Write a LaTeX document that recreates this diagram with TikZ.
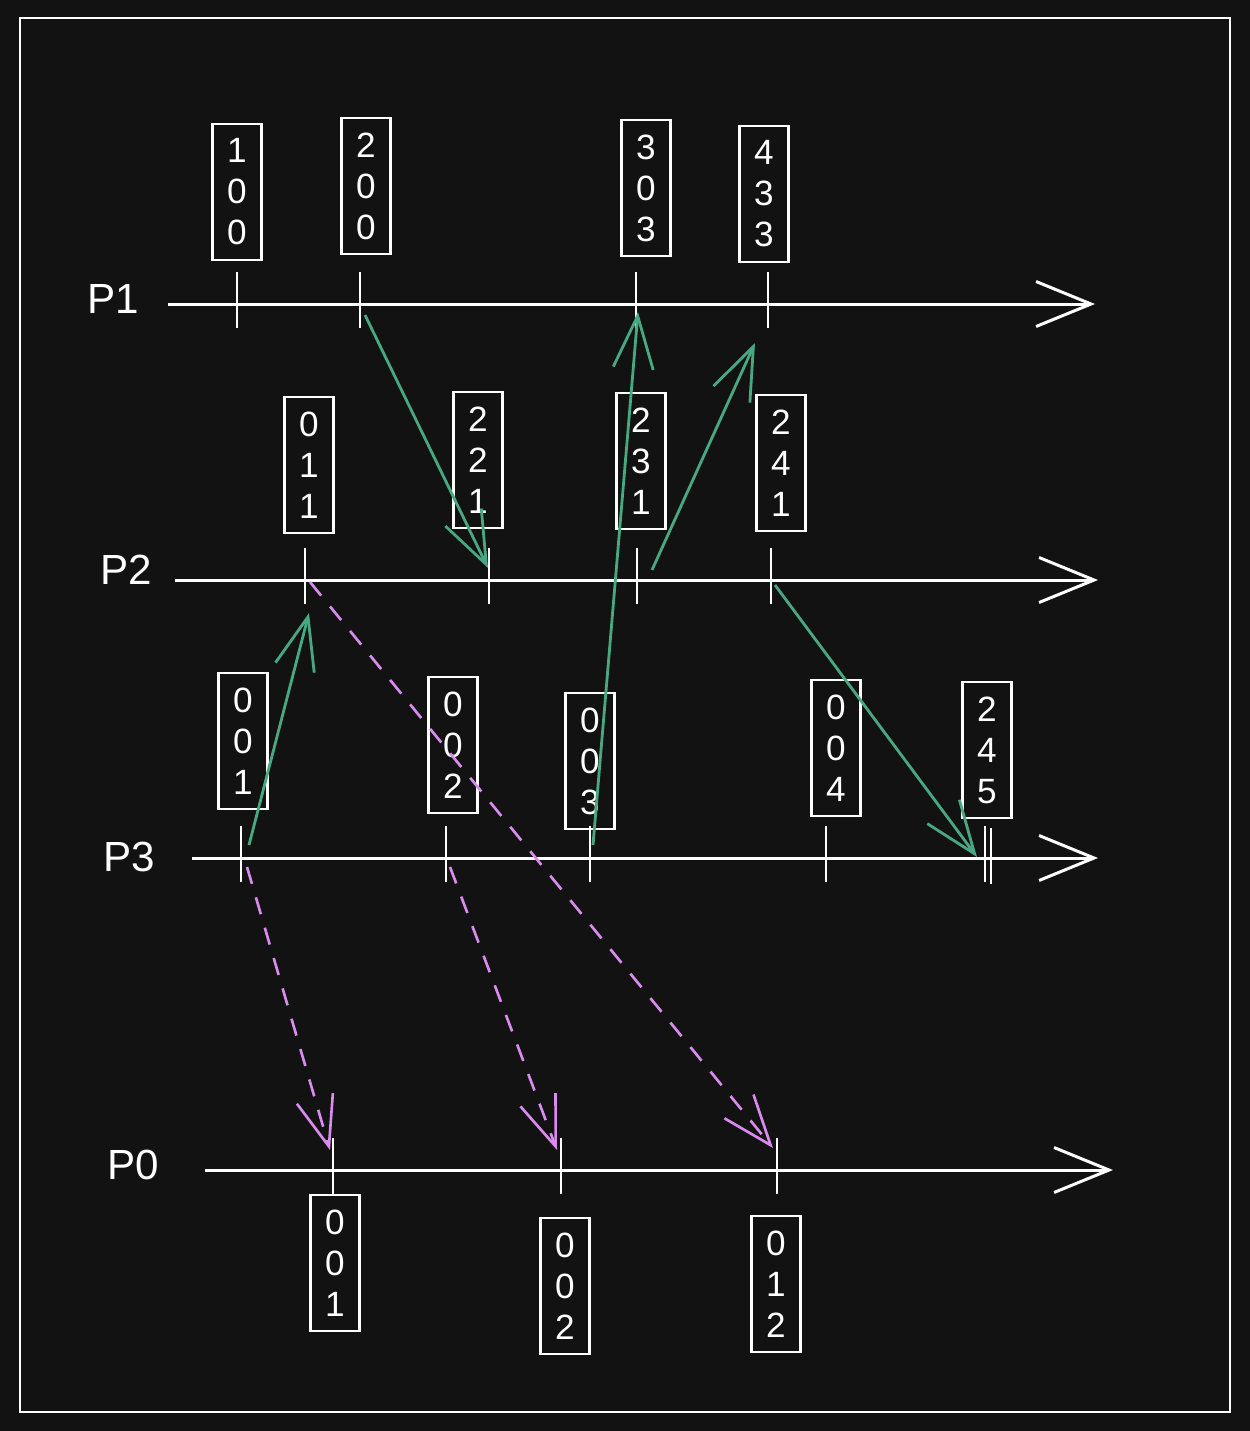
\documentclass[tikz,border=0pt]{standalone}
\usepackage{fontspec}
\setmainfont{Liberation Sans}
\usetikzlibrary{arrows.meta}
\definecolor{bg}{HTML}{121212}
\definecolor{msg}{RGB}{72,168,130}
\definecolor{relaycol}{RGB}{218,140,238}

\begin{document}
\begin{tikzpicture}[x=0.02cm,y=-0.02cm,
  every node/.style={text=white,font=\fontsize{20}{23.3}\selectfont},
  clock/.style={draw=white,line width=1.5pt,minimum width=0.98cm,minimum height=2.72cm,align=center,inner sep=0pt},
  proc/.style={font=\fontsize{24}{28}\selectfont},
  axis/.style={white,line width=1.7pt,-{Straight Barb[length=1.1cm,width=0.9cm]}},
  tickmark/.style={white,line width=1.4pt},
  send/.style={msg,line width=1.6pt,-{Straight Barb[length=1.05cm,width=0.8cm]}},
  relay/.style={relaycol,line width=1.5pt,dash pattern=on 10pt off 8pt,-{Straight Barb[length=1cm,width=0.75cm]}}
  ]

    \fill[bg] (0,0) rectangle (1250,1431);
    \draw[white,line width=1.4pt] (20,18) rectangle (1230,1412);

    \node[proc] (p1) at (113,299) {P1};
    \node[proc] (p2) at (126,570) {P2};
    \node[proc] (p3) at (129,857) {P3};
    \node[proc] (p0) at (133,1165) {P0};

    \coordinate (p1s) at (168,304); \coordinate (p1e) at (1095,304);
    \coordinate (p2s) at (175,580); \coordinate (p2e) at (1098,580);
    \coordinate (p3s) at (192,858); \coordinate (p3e) at (1098,858);
    \coordinate (p0s) at (205,1170); \coordinate (p0e) at (1113,1170);
    \draw[axis] (p1s) -- (p1e);
    \draw[axis] (p2s) -- (p2e);
    \draw[axis] (p3s) -- (p3e);
    \draw[axis] (p0s) -- (p0e);

    \foreach \n/\x/\y in {e1a/237/304, e1b/360/304, e1c/636/304, e1d/768/304,
                          e2a/305/580, e2b/489/580, e2c/637/580, e2d/771/580,
                          e3a/241/858, e3b/446/858, e3c/590/858, e3d/826/858, e3e/985/858,
                          e0a/333/1170, e0b/561/1170, e0c/777/1170}
    {
        \coordinate (\n) at (\x,\y);
        \draw[tickmark] (\n) ++(0,-32) -- ++(0,56);
    }
    \draw[tickmark] (e3e) ++(6,-30) -- ++(0,56);

    % P1
    \node[clock] (c1a) at (237,192) {1\\0\\0};
    \node[clock] (c1b) at (366,186) {2\\0\\0};
    \node[clock] (c1c) at (646,188) {3\\0\\3};
    \node[clock] (c1d) at (764,194) {4\\3\\3};

    % P2
    \node[clock] (c2a) at (309,465) {0\\1\\1};
    \node[clock] (c2b) at (478,460) {2\\2\\1};
    \node[clock] (c2c) at (641,461) {2\\3\\1};
    \node[clock] (c2d) at (781,463) {2\\4\\1};

    % P3
    \node[clock] (c3a) at (243,741) {0\\0\\1};
    \node[clock] (c3b) at (453,745) {0\\0\\2};
    \node[clock] (c3c) at (590,761) {0\\0\\3};
    \node[clock] (c3d) at (836,748) {0\\0\\4};
    \node[clock] (c3e) at (987,750) {2\\4\\5};

    % P0
    \node[clock] (c0a) at (335,1263) {0\\0\\1};
    \node[clock] (c0b) at (565,1286) {0\\0\\2};
    \node[clock] (c0c) at (776,1284) {0\\1\\2};

    \draw[send] ([shift={(5,11)}]e1b) -- ([shift={(-1,-12)}]e2b);
    \draw[send] ([shift={(8,-13)}]e3a) -- ([shift={(4,33)}]e2a);
    \draw[send] ([shift={(3,-13)}]e3c) -- ([shift={(2,8)}]e1c);
    \draw[send] ([shift={(15,-10)}]e2c) -- ([shift={(-13,39)}]e1d);
    \draw[send] ([shift={(4,5)}]e2d) -- ([shift={(-8,-1)}]e3e);

    \draw[relay] ([shift={(6,9)}]e3a) -- ([shift={(-3,-20)}]e0a);
    \draw[relay] ([shift={(4,9)}]e3b) -- ([shift={(-4,-20)}]e0b);
    \draw[relay] ([shift={(5,2)}]e2a) -- ([shift={(-4,-22)}]e0c);
\end{tikzpicture}
\end{document}
